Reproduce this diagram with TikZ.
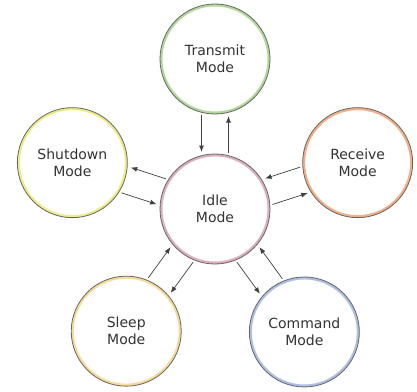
\documentclass[tikz,border=0pt]{standalone}
\usepackage{fontspec}
\setmainfont{DejaVu Sans}
\usepackage{xcolor}
\usepackage{tikz}
\usetikzlibrary{arrows.meta}
\usetikzlibrary{calc}
\usetikzlibrary{positioning}
\definecolor{ringgreen}{HTML}{B3D99A}
\definecolor{ringyellow}{HTML}{EEEC86}
\definecolor{ringorange}{HTML}{F2B088}
\definecolor{ringpink}{HTML}{DDB0BE}
\definecolor{ringgold}{HTML}{F8DA98}
\definecolor{ringblue}{HTML}{AFBEE2}
\tikzset{
    mode/.style={
        circle,
        draw=black!60,
        line width=0.8pt,
        fill=white,
        minimum size=110pt,
        align=center,
        text=black!80,
        font=\fontsize{14}{17}\selectfont,
        path picture={
            \draw[#1,line width=5pt] (path picture bounding box.center) circle (55pt);
          }
    },
    mode arrow/.style={
        -{Latex[length=6.5pt,width=5pt]},
        draw=black!75,
        line width=0.7pt,
        shorten <=56pt,
        shorten >=57pt
    }
}
\begin{document}
\begin{tikzpicture}
            \useasboundingbox (-215pt,-182pt) rectangle (202pt,209pt);
            \node[mode=ringpink] (idle) at (0,0) {Idle\\Mode};
            \node[mode=ringgreen] (transmit) at (90:150pt) {Transmit\\Mode};
            \node[mode=ringyellow] (shutdown) at (162:150pt) {Shutdown\\Mode};
            \node[mode=ringorange] (receive) at (18:150pt) {Receive\\Mode};
            \node[mode=ringgold] (sleep) at (234:151pt) {Sleep\\Mode};
            \node[mode=ringblue] (command) at (306:152pt) {Command\\Mode};
            \foreach \s/\t/\p/\q in {transmit/idle/-90/90,idle/transmit/-90/90,
                                     idle/shutdown/-90/90,shutdown/idle/-90/90,
                                     idle/receive/-90/90,receive/idle/-90/90,
                                     idle/sleep/90/-90,sleep/idle/90/-90,
                                     idle/command/-90/90,command/idle/-90/90}
              \draw[mode arrow] ($(\s.center)!13.5pt!\p:(\t.center)$) -- ($(\t.center)!13.5pt!\q:(\s.center)$);
          \end{tikzpicture}
\end{document}
